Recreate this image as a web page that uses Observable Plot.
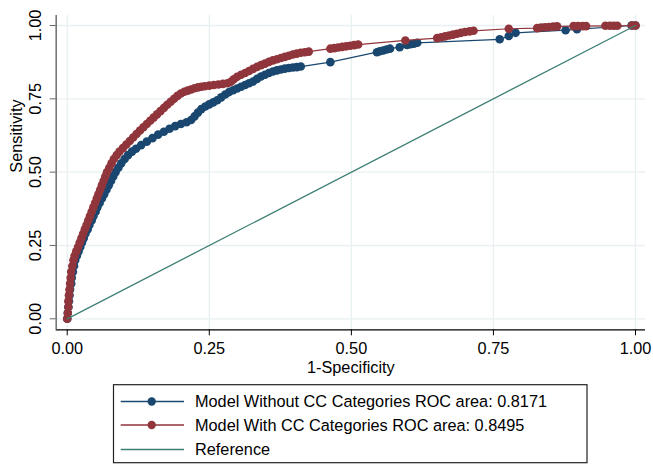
<!DOCTYPE html>
<html>
<head>
<meta charset="utf-8">
<script src="https://cdn.jsdelivr.net/npm/d3@7"></script>
<script src="https://cdn.jsdelivr.net/npm/@observablehq/plot@0.6"></script>
<style>
  html, body { margin: 0; padding: 0; background: #fff; }
  #chart { position: relative; width: 653px; height: 464px; font-family: "Liberation Sans", Arial, Helvetica, sans-serif; }
  #chart svg { display: block; }
</style>
</head>
<body>
<div id="chart"></div>
<script>
// ---- Data ----
const xTicks = [0, 0.25, 0.5, 0.75, 1];
const yTicks = [0, 0.25, 0.5, 0.75, 1];
const xTitle = "1-Specificity";
const yTitle = "Sensitivity";
const seriesNames = [
  "Model Without CC Categories ROC area: 0.8171",
  "Model With CC Categories ROC area: 0.8495",
  "Reference"
];
const seriesColors = ["#1a476f", "#90353b", "#3d7f74"];

// Model without CC categories (1-specificity, sensitivity)
const withoutX = [0,0.001,0.002,0.003,0.004,0.005,0.007,0.008,0.010,0.012,0.014,0.017,0.020,0.023,0.026,0.029,0.032,0.036,0.039,0.043,0.046,0.050,0.053,0.057,0.061,0.065,0.069,0.073,0.077,0.081,0.085,0.090,0.095,0.101,0.107,0.114,0.121,0.130,0.140,0.150,0.160,0.170,0.180,0.190,0.200,0.210,0.218,0.224,0.230,0.236,0.243,0.250,0.257,0.264,0.271,0.278,0.285,0.292,0.299,0.306,0.313,0.320,0.327,0.334,0.341,0.348,0.355,0.362,0.369,0.376,0.383,0.390,0.397,0.404,0.411,0.463,0.545,0.550,0.556,0.562,0.568,0.585,0.598,0.604,0.610,0.616,0.761,0.777,0.789,0.877,0.897,0.993,1];
const withoutY = [0,0.020,0.040,0.060,0.080,0.100,0.120,0.140,0.160,0.180,0.200,0.215,0.230,0.245,0.260,0.275,0.290,0.305,0.320,0.335,0.350,0.365,0.380,0.395,0.410,0.425,0.440,0.455,0.470,0.485,0.500,0.515,0.530,0.545,0.558,0.570,0.580,0.592,0.604,0.616,0.628,0.638,0.648,0.657,0.664,0.670,0.678,0.690,0.703,0.715,0.724,0.731,0.738,0.745,0.755,0.765,0.773,0.779,0.785,0.791,0.797,0.803,0.809,0.818,0.826,0.832,0.838,0.843,0.847,0.850,0.853,0.855,0.857,0.858,0.860,0.875,0.909,0.912,0.915,0.918,0.921,0.926,0.934,0.936,0.938,0.941,0.953,0.964,0.975,0.984,0.987,1.000,1];

// Model with CC categories
const withX = [0,0.001,0.002,0.002,0.003,0.004,0.005,0.006,0.007,0.009,0.011,0.013,0.016,0.019,0.022,0.025,0.028,0.031,0.034,0.037,0.040,0.043,0.046,0.049,0.052,0.055,0.058,0.061,0.064,0.067,0.070,0.074,0.078,0.082,0.087,0.092,0.098,0.104,0.110,0.116,0.122,0.128,0.134,0.140,0.146,0.152,0.158,0.164,0.170,0.176,0.182,0.188,0.194,0.200,0.206,0.212,0.218,0.224,0.230,0.236,0.242,0.250,0.258,0.266,0.274,0.282,0.288,0.293,0.299,0.306,0.313,0.320,0.327,0.334,0.341,0.348,0.355,0.362,0.369,0.376,0.383,0.390,0.397,0.404,0.411,0.418,0.425,0.463,0.470,0.477,0.484,0.491,0.498,0.505,0.512,0.595,0.651,0.658,0.665,0.672,0.679,0.686,0.693,0.700,0.708,0.715,0.777,0.827,0.834,0.841,0.848,0.855,0.862,0.891,0.899,0.907,0.913,0.947,0.955,0.962,0.968,0.994,1];
const withY = [0,0.020,0.040,0.060,0.080,0.100,0.120,0.140,0.160,0.180,0.200,0.215,0.230,0.245,0.260,0.275,0.290,0.305,0.320,0.335,0.350,0.365,0.380,0.395,0.410,0.425,0.440,0.455,0.470,0.485,0.500,0.515,0.530,0.545,0.558,0.570,0.582,0.594,0.606,0.618,0.630,0.642,0.653,0.664,0.675,0.686,0.697,0.708,0.719,0.730,0.740,0.750,0.760,0.768,0.774,0.778,0.782,0.786,0.789,0.791,0.793,0.795,0.797,0.799,0.801,0.803,0.808,0.817,0.825,0.832,0.838,0.845,0.852,0.859,0.865,0.870,0.876,0.881,0.885,0.889,0.893,0.897,0.901,0.904,0.907,0.909,0.911,0.921,0.923,0.925,0.927,0.929,0.931,0.933,0.935,0.949,0.957,0.960,0.963,0.966,0.969,0.972,0.975,0.978,0.980,0.982,0.989,0.991,0.993,0.994,0.995,0.996,0.997,0.998,0.998,0.998,0.998,0.999,0.999,0.999,0.999,1.000,1];

// Reference diagonal
const refX = [0, 1];
const refY = [0, 1];

// ---- Build tables ----
const without = withoutX.map((x, i) => ({x, y: withoutY[i]}));
const withCC = withX.map((x, i) => ({x, y: withY[i]}));
const ref = refX.map((x, i) => ({x, y: refY[i]}));

// ---- Layout constants ----
const W = 653, H = 380;
const X0 = -0.0194, X1 = 1.0176;
const Y0 = -0.0375, Y1 = 1.0341;
const FONT = '"Liberation Sans", Arial, Helvetica, sans-serif';
const FS = 16.3;
const gridColor = "#e8f0f1";

const plot = Plot.plot({
  width: W,
  height: H,
  marginLeft: 55.7,
  marginRight: 8,
  marginTop: 15,
  marginBottom: 50.7,
  style: {fontFamily: FONT, fontSize: FS + "px", background: "#fff", color: "#000"},
  x: {domain: [X0, X1], axis: null},
  y: {domain: [Y0, Y1], axis: null},
  marks: [
    Plot.gridX(xTicks, {stroke: gridColor, strokeOpacity: 1, strokeWidth: 1.3}),
    Plot.gridY(yTicks, {stroke: gridColor, strokeOpacity: 1, strokeWidth: 1.3}),
    // axes lines
    Plot.ruleY([Y0], {stroke: "#000", strokeWidth: 1.2}),
    Plot.ruleX([X0], {stroke: "#777", strokeWidth: 1.6}),
    // x axis ticks and labels
    Plot.axisX(xTicks, {tickSize: 6, tickPadding: 7, tickFormat: d => d.toFixed(2), fontSize: FS, stroke: "#000", label: null}),
    // y axis ticks
    Plot.axisY(yTicks, {tickSize: 6, tickFormat: () => "", stroke: "#666", label: null}),
    Plot.text(yTicks, {x: X0, y: d => d, text: d => d.toFixed(2), rotate: -90, dx: -20, fontSize: FS, fill: "#000", textAnchor: "middle"}),
    // axis titles
    Plot.text([yTitle], {text: d => d, frameAnchor: "left", lineAnchor: "middle", rotate: -90, dx: -39, fontSize: FS, fill: "#000"}),
    Plot.text([xTitle], {text: d => d, frameAnchor: "bottom", lineAnchor: "middle", dy: 38, fontSize: FS, fill: "#000"}),
    // series
    Plot.line(without, {x: "x", y: "y", stroke: seriesColors[0], strokeWidth: 1.2}),
    Plot.dot(without, {x: "x", y: "y", r: 4.3, fill: seriesColors[0], stroke: "none"}),
    Plot.line(withCC, {x: "x", y: "y", stroke: seriesColors[1], strokeWidth: 1.2}),
    Plot.dot(withCC, {x: "x", y: "y", r: 4.3, fill: seriesColors[1], stroke: "none"}),
    Plot.line(ref, {x: "x", y: "y", stroke: seriesColors[2], strokeWidth: 1.3})
  ]
});

const chart = document.getElementById("chart");
chart.appendChild(plot);

// ---- Legend (below the plot) ----
const legend = d3.create("svg")
  .attr("width", W)
  .attr("height", 464 - H)
  .style("font-family", FONT);
legend.append("rect")
  .attr("x", 113.5).attr("y", 4.7)
  .attr("width", 473.5).attr("height", 78)
  .attr("fill", "#fff").attr("stroke", "#222").attr("stroke-width", 1.2);
const rowY = [21.5, 45, 69.5];
seriesNames.forEach((name, i) => {
  const g = legend.append("g").attr("transform", `translate(0,${rowY[i]})`);
  g.append("line").attr("x1", 120.7).attr("x2", 184).attr("y1", 0).attr("y2", 0)
    .attr("stroke", seriesColors[i]).attr("stroke-width", 1.3);
  if (i < 2) g.append("circle").attr("cx", 151.7).attr("cy", 0).attr("r", 4.2).attr("fill", seriesColors[i]);
  g.append("text").attr("x", 195).attr("y", 0).attr("dy", "0.35em")
    .attr("font-size", FS).attr("fill", "#000").text(name);
});
chart.appendChild(legend.node());
</script>
</body>
</html>
